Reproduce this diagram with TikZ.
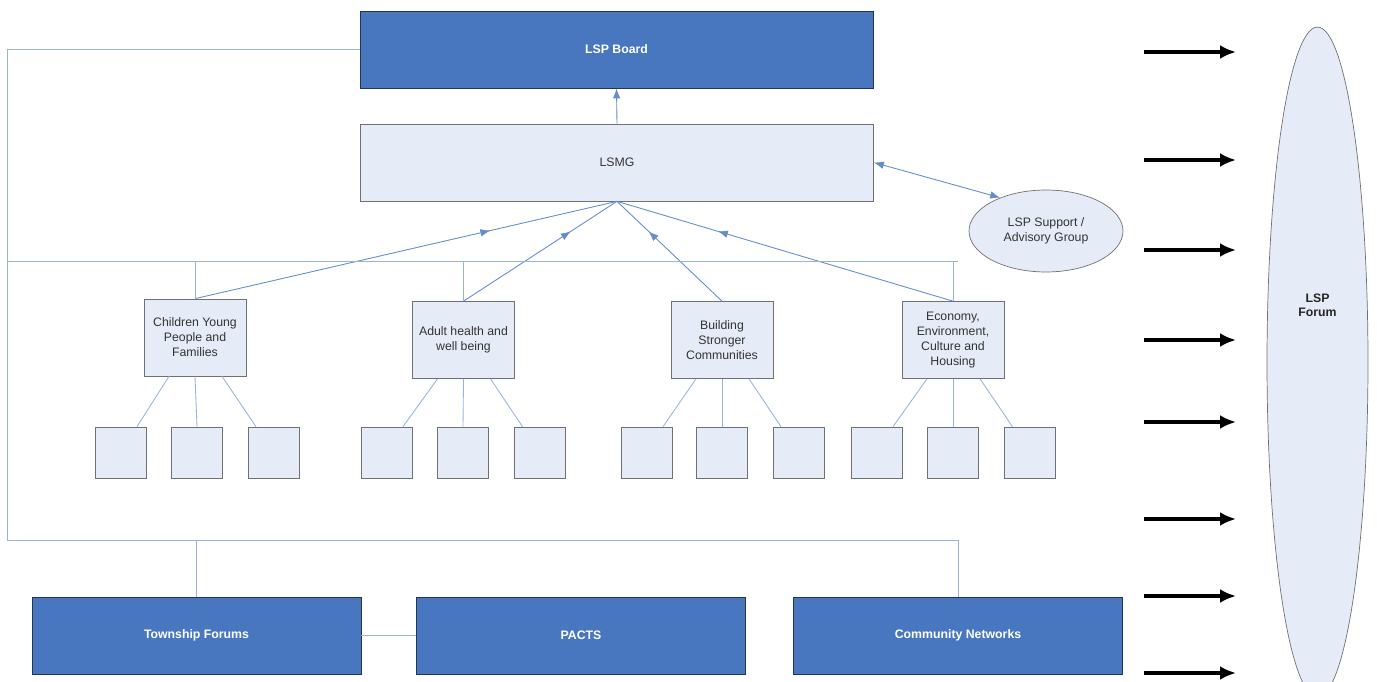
\documentclass[tikz,border=0pt]{standalone}
\usepackage{fontspec}
\setmainfont{Liberation Sans}
\usepackage{tikz}
\usetikzlibrary{shapes.geometric,arrows.meta,calc,decorations.markings}
\definecolor{boardblue}{HTML}{4877BF}
\definecolor{paleblue}{HTML}{E6ECF7}
\definecolor{linkblue}{HTML}{9AB3DB}
\definecolor{arrowblue}{HTML}{4A78C2}
\definecolor{boxgray}{HTML}{707070}

\begin{document}
\begin{tikzpicture}[x=0.02cm,y=-0.02cm,
  darkbox/.style={rectangle,draw=boardblue!45!black,fill=boardblue,minimum width=6.58cm,minimum height=1.54cm,inner sep=0pt,font=\fontsize{7}{8.5}\selectfont\bfseries,text=white},
  lightbox/.style={rectangle,draw=boxgray,fill=paleblue,inner sep=0pt,align=center,font=\fontsize{7}{8.5}\selectfont,text=black!80},
  themebox/.style={lightbox,minimum width=2.04cm,minimum height=1.54cm},
  subbox/.style={lightbox,minimum width=1.02cm,minimum height=1.02cm},
  ovalbox/.style={ellipse,draw=boxgray,fill=paleblue,inner sep=0pt,align=center,font=\fontsize{7}{8.5}\selectfont,text=black!80},
  linkline/.style={draw=linkblue,line width=0.5pt},
  feedline/.style={draw=arrowblue!85,line width=0.5pt,postaction={decorate},decoration={markings,mark=at position 0.7 with {\arrow{Latex[length=2mm,width=1.5mm]}}}},
  pushline/.style={line width=2.2pt,-{Latex[length=3.2mm,width=2.8mm]}}
]
\useasboundingbox (0,0) rectangle (1377,682);

% top of the structure
\node[darkbox,minimum width=10.26cm] (board) at (616.5,49.5) {LSP Board};
\node[lightbox,minimum width=10.26cm,minimum height=1.54cm] (lsmg) at (617,162.5) {LSMG};
\node[ovalbox,minimum width=3.08cm,minimum height=1.64cm] (support) at (1046,231) {LSP Support /\\Advisory Group};

\draw[draw=arrowblue!85,line width=0.5pt,-{Latex[length=2mm,width=1.5mm]}] (lsmg.north) -- (board.south);
\draw[draw=arrowblue!85,line width=0.5pt,{Latex[length=2mm,width=1.5mm]}-{Latex[length=2mm,width=1.5mm]}] (lsmg.east) -- (support.144);

% theme groups
\node[themebox] (children) at (195,337.5) {Children Young\\People and\\Families};
\node[themebox] (adult) at (463.5,340) {Adult health and\\well being};
\node[themebox] (building) at (722,340) {Building\\Stronger\\Communities};
\node[themebox] (economy) at (953,340) {Economy,\\Environment,\\Culture and\\Housing};

\draw[feedline] (children.north) -- (lsmg.south);
\draw[feedline] (adult.north) -- (lsmg.south);
\draw[feedline] (building.north) -- (lsmg.south);
\draw[feedline] (economy.north) -- (lsmg.south);

\coordinate (barL) at (7,261); \coordinate (barR) at (958,261);
\draw[linkline] (barL) -- (barR);
\draw[linkline] (children.north) -- (children.north |- barL);
\draw[linkline] (adult.north) -- (adult.north |- barL);
\draw[linkline] (economy.north) -- (economy.north |- barL);

% sub groups
\node[subbox] (children-1) at (120.5,452.5) {}; \draw[linkline] ([xshift=-5.2mm]children.south) -- ([xshift=3.3mm]children-1.north);
\node[subbox] (children-2) at (197,452.5) {}; \draw[linkline] (children.south) -- (children-2.north);
\node[subbox] (children-3) at (273.5,452.5) {}; \draw[linkline] ([xshift=5.4mm]children.south) -- ([xshift=-3.5mm]children-3.north);
\node[subbox] (adult-1) at (386.5,452.5) {}; \draw[linkline] ([xshift=-5.2mm]adult.south) -- ([xshift=3.3mm]adult-1.north);
\node[subbox] (adult-2) at (463,452.5) {}; \draw[linkline] (adult.south) -- (adult-2.north);
\node[subbox] (adult-3) at (540,452.5) {}; \draw[linkline] ([xshift=5.4mm]adult.south) -- ([xshift=-3.5mm]adult-3.north);
\node[subbox] (building-1) at (646.5,452.5) {}; \draw[linkline] ([xshift=-5.2mm]building.south) -- ([xshift=3.3mm]building-1.north);
\node[subbox] (building-2) at (722,452.5) {}; \draw[linkline] (building.south) -- (building-2.north);
\node[subbox] (building-3) at (798.5,452.5) {}; \draw[linkline] ([xshift=5.4mm]building.south) -- ([xshift=-3.5mm]building-3.north);
\node[subbox] (economy-1) at (876.5,452.5) {}; \draw[linkline] ([xshift=-5.2mm]economy.south) -- ([xshift=3.3mm]economy-1.north);
\node[subbox] (economy-2) at (953,452.5) {}; \draw[linkline] (economy.south) -- (economy-2.north);
\node[subbox] (economy-3) at (1030,452.5) {}; \draw[linkline] ([xshift=5.4mm]economy.south) -- ([xshift=-3.5mm]economy-3.north);

% local bodies
\node[darkbox] (township) at (196.5,635.5) {Township Forums};
\node[darkbox] (pacts) at (581,635.5) {PACTS};
\node[darkbox] (community) at (958,635.5) {Community Networks};

\coordinate (loopL) at (7,540);
\draw[linkline] (board.west) -| (loopL) -- (loopL -| community.north) -- (community.north);
\draw[linkline] (township.north) -- (township.north |- loopL);
\draw[linkline] (township.east) -- (pacts.west);

% forum
\node[ovalbox,minimum width=2.02cm,minimum height=13.4cm] (forum) at (1317.5,362) {};
\node[font=\fontsize{7}{8}\selectfont\bfseries,align=center,text=black!85] (forumlabel) at (1317.5,305) {LSP\\Forum};

\coordinate (p1) at (1144,52); \coordinate (q1) at (1236,52); \draw[pushline] (p1) -- (q1);
\coordinate (p2) at (1144,160); \coordinate (q2) at (1236,160); \draw[pushline] (p2) -- (q2);
\coordinate (p3) at (1144,250); \coordinate (q3) at (1236,250); \draw[pushline] (p3) -- (q3);
\coordinate (p4) at (1144,340); \coordinate (q4) at (1236,340); \draw[pushline] (p4) -- (q4);
\coordinate (p5) at (1144,422); \coordinate (q5) at (1236,422); \draw[pushline] (p5) -- (q5);
\coordinate (p6) at (1144,519); \coordinate (q6) at (1236,519); \draw[pushline] (p6) -- (q6);
\coordinate (p7) at (1144,596); \coordinate (q7) at (1236,596); \draw[pushline] (p7) -- (q7);
\coordinate (p8) at (1144,673); \coordinate (q8) at (1236,673); \draw[pushline] (p8) -- (q8);
\end{tikzpicture}
\end{document}
